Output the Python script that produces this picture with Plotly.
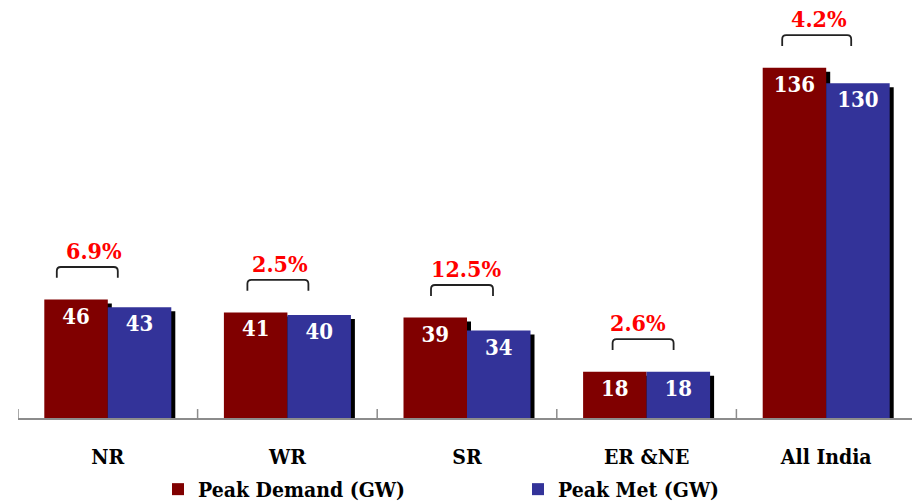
import plotly.graph_objects as go

# data
regions = ["NR", "WR", "SR", "ER &NE", "All India"]
peak_demand = [46, 41, 39, 18, 136]
peak_met = [43, 40, 34, 18, 130]
shortage_pct = ["6.9%", "2.5%", "12.5%", "2.6%", "4.2%"]

RED = "#800000"
BLUE = "#333399"
FONT = "DejaVu Serif Condensed, DejaVu Serif, serif"

W, H = 912, 502
M_L, M_R, M_T, M_B = 18, 0, 5, 79
CAT_PX = 179.6   # pixel width of one category slot
Y_PX = 2.606     # pixels per GW
plot_w = W - M_L - M_R
plot_h = H - M_T - M_B
y_max = plot_h / Y_PX
x_max = -0.5 + plot_w / CAT_PX

ux = 1 / CAT_PX   # x data units per pixel
uy = 1 / Y_PX     # y data units per pixel

xs = list(range(len(regions)))
bar_w = 63.5 * ux
shadow = 4

# bracket / label placement (pixels relative to category centre)
br_left = [-51, -40, -36, -34, -44]
br_right = [10, 21, 26, 27, 25]
txt_dx = [-14, -7.5, -1, -9, -7]

fig = go.Figure()

# drop shadows
for vals, off in [(peak_demand, -bar_w), (peak_met, 0)]:
    fig.add_trace(go.Bar(
        x=xs, y=[v - shadow * uy for v in vals],
        width=bar_w, offset=off + shadow * ux,
        marker=dict(color="black", line_width=0),
        showlegend=False, hoverinfo="skip",
    ))

series = [(peak_demand, -bar_w, RED, "Peak Demand (GW)", "legend"),
          (peak_met, 0, BLUE, "Peak Met (GW)", "legend2")]
for vals, off, col, name, leg in series:
    fig.add_trace(go.Bar(
        x=xs, y=vals, width=bar_w, offset=off, name=name, legend=leg,
        marker=dict(color=col, line_width=0),
        text=[str(v) for v in vals], textposition="inside",
        insidetextanchor="end",
        textfont=dict(family=FONT, size=22, color="white", weight="bold"),
    ))

# brackets and shortage labels
for i, v in enumerate(peak_demand):
    x0 = xs[i] + br_left[i] * ux
    x1 = xs[i] + br_right[i] * ux
    yb = v + 22 * uy
    yt = v + 33 * uy
    rx, ry = 4 * ux, 4 * uy
    path = (f"M{x0},{yb} L{x0},{yt - ry} Q{x0},{yt} {x0 + rx},{yt} "
            f"L{x1 - rx},{yt} Q{x1},{yt} {x1},{yt - ry} L{x1},{yb}")
    fig.add_shape(type="path", path=path, xref="x", yref="y",
                  line=dict(color="#222222", width=1.8))
    fig.add_annotation(x=xs[i] + txt_dx[i] * ux, y=yt + 17 * uy,
                       text=shortage_pct[i], showarrow=False,
                       xanchor="center", yanchor="middle",
                       font=dict(family=FONT, size=23, color="#ff0000", weight="bold"))

# category boundary ticks crossing the axis
for i in range(len(regions)):
    b = xs[i] - 0.5
    fig.add_shape(type="line", xref="x", yref="y", x0=b, x1=b,
                  ysizemode="pixel", yanchor=0, y0=-8, y1=9,
                  line=dict(color="#8c8c8c", width=1.5))

# legends sit in the bottom margin; container y so they don't squeeze the plot
legend_style = dict(orientation="h", xanchor="left", yanchor="top",
                    yref="container", y=1 - 469 / H,
                    bgcolor="rgba(0,0,0,0)",
                    font=dict(family=FONT, size=21, color="black", weight="bold"))

fig.update_layout(
    width=W, height=H,
    margin=dict(l=M_L, r=M_R, t=M_T, b=M_B),
    plot_bgcolor="white", paper_bgcolor="white",
    barmode="overlay",
    showlegend=True,
    legend=dict(x=(158 - M_L) / plot_w, **legend_style),
    legend2=dict(x=(518 - M_L) / plot_w, **legend_style),
    xaxis=dict(range=[-0.5, x_max], tickvals=xs, ticktext=regions,
               showline=True, linecolor="#8c8c8c", linewidth=1.5,
               showgrid=False, zeroline=False, ticks="",
               ticklabelstandoff=19,
               tickfont=dict(family=FONT, size=21, color="black", weight="bold")),
    yaxis=dict(range=[0, y_max], visible=False),
)

# the page body has a default 8px margin; drop it so the chart sits at 0,0
fig.write_html("out.html", config={"displayModeBar": False},
               post_script="document.body.style.margin='0';")
